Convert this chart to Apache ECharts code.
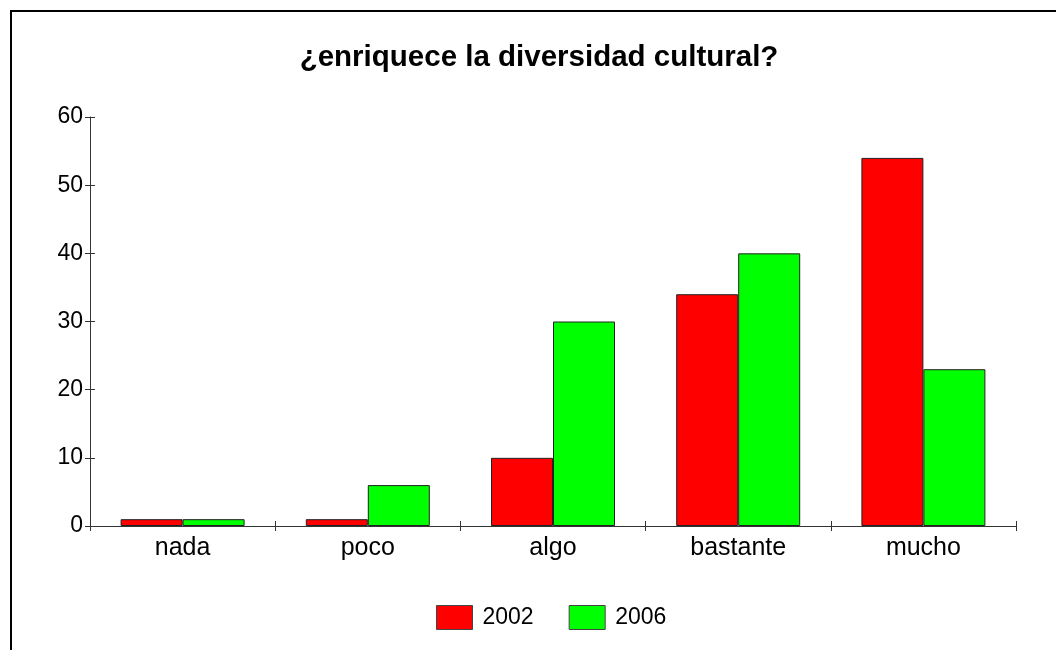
<!DOCTYPE html>
<html>
<head>
<meta charset="utf-8">
<script src="https://cdn.jsdelivr.net/npm/echarts@6/dist/echarts.min.js"></script>
<style>
  html, body { margin: 0; padding: 0; background: #fff; }
  #frame { position: absolute; left: 10px; top: 10px; width: 1100px; height: 700px;
           border-left: 2px solid #000; border-top: 2px solid #000; }
  #chart { position: absolute; left: 0; top: 0; width: 1056px; height: 650px; }
</style>
</head>
<body>
<div id="frame"></div>
<div id="chart"></div>
<script>
var categories = ["nada", "poco", "algo", "bastante", "mucho"];
var values2002 = [1, 1, 10, 34, 54];
var values2006 = [1, 6, 30, 40, 23];
var seriesNames = ["2002", "2006"];

var font = "'Liberation Sans', Arial, sans-serif";
var axisColor = "#333";
var chart = echarts.init(document.getElementById("chart"));

// second axis of each kind only carries the inner half of the cross ticks
var option = {
    animation: false,
    title: {
        text: "¿enriquece la diversidad cultural?",
        left: 534,
        top: 38,
        textAlign: "center",
        textStyle: { fontFamily: font, fontSize: 29.5, fontWeight: "bold", color: "#000" }
    },
    legend: {
        left: 431,
        top: 600,
        icon: "rect",
        itemWidth: 36,
        itemHeight: 24,
        itemGap: 35,
        itemStyle: { borderColor: "#444", borderWidth: 1 },
        textStyle: { fontFamily: font, fontSize: 23, color: "#000", padding: [0, 0, 0, 5] },
        data: seriesNames
    },
    grid: { left: 90, right: 40, top: 117, bottom: 124 },
    xAxis: [
        {
            type: "category",
            data: categories,
            axisLine: { lineStyle: { color: axisColor, width: 1 } },
            axisTick: { show: true, length: 5, lineStyle: { color: axisColor } },
            axisLabel: { fontFamily: font, fontSize: 25, color: "#000", margin: 10 }
        },
        {
            type: "category",
            data: categories,
            position: "bottom",
            axisLine: { show: false },
            axisTick: { show: true, inside: true, length: 5, lineStyle: { color: axisColor } },
            axisLabel: { show: false }
        }
    ],
    yAxis: [
        {
            type: "value",
            min: 0,
            max: 60,
            interval: 10,
            splitLine: { show: false },
            axisLine: { show: true, lineStyle: { color: axisColor, width: 1 } },
            axisTick: { show: true, length: 5, lineStyle: { color: axisColor } },
            axisLabel: { fontFamily: font, fontSize: 23, color: "#000", margin: 7 }
        },
        {
            type: "value",
            min: 0,
            max: 60,
            interval: 10,
            position: "left",
            splitLine: { show: false },
            axisLine: { show: false },
            axisTick: { show: true, inside: true, length: 5, lineStyle: { color: axisColor } },
            axisLabel: { show: false }
        }
    ],
    series: [
        {
            name: seriesNames[0],
            type: "bar",
            data: values2002,
            barWidth: 62,
            barGap: "0%",
            itemStyle: { color: "#ff0000", borderColor: "#222", borderWidth: 1 }
        },
        {
            name: seriesNames[1],
            type: "bar",
            data: values2006,
            barWidth: 62,
            barGap: "0%",
            itemStyle: { color: "#00ff00", borderColor: "#222", borderWidth: 1 }
        },
        {
            // invisible, only keeps the tick axes alive
            name: "ticks",
            type: "line",
            xAxisIndex: 1,
            yAxisIndex: 1,
            data: values2002,
            symbol: "none",
            silent: true,
            lineStyle: { opacity: 0 }
        }
    ]
};

chart.setOption(option);
</script>
</body>
</html>
